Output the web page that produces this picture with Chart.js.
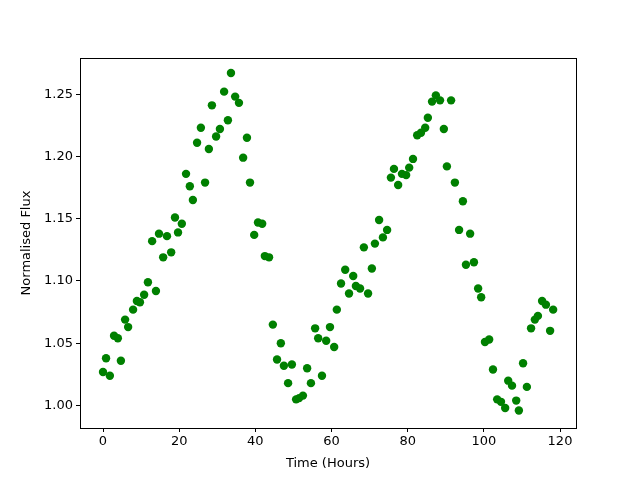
<!DOCTYPE html>
<html>
<head>
<meta charset="utf-8">
<script src="https://cdn.jsdelivr.net/npm/chart.js@4.4.1/dist/chart.umd.min.js"></script>
<style>
  html, body { margin: 0; padding: 0; background: #fff; }
  #wrap { width: 640px; height: 480px; }
</style>
</head>
<body>
<div id="wrap"><canvas id="fluxChart" width="640" height="480"></canvas></div>
<script>
// time in hours
const timeHours = [
  0, 0.8, 1.8, 2.9, 3.9, 4.7, 5.8, 6.6, 7.9, 8.9, 9.7, 10.8, 11.8, 12.9, 13.9, 14.7,
  15.8, 16.8, 17.9, 18.9, 19.7, 20.7, 21.8, 22.8, 23.6, 24.7, 25.7, 26.8, 27.8, 28.6,
  29.7, 30.7, 31.8, 32.8, 33.6, 34.7, 35.7, 36.8, 37.8, 38.6, 39.7, 40.7, 41.8, 42.5,
  43.6, 44.6, 45.7, 46.7, 47.5, 48.6, 49.6, 50.7, 51.5, 52.5, 53.6, 54.6, 55.7, 56.5,
  57.5, 58.6, 59.6, 60.7, 61.4, 62.5, 63.6, 64.6, 65.7, 66.4, 67.5, 68.5, 69.6, 70.6,
  71.4, 72.5, 73.5, 74.6, 75.6, 76.4, 77.5, 78.5, 79.6, 80.4, 81.4, 82.5, 83.5, 84.6,
  85.3, 86.4, 87.4, 88.5, 89.5, 90.3, 91.4, 92.4, 93.5, 94.5, 95.3, 96.4, 97.4, 98.5,
  99.3, 100.3, 101.4, 102.4, 103.5, 104.5, 105.6, 106.4, 107.4, 108.5, 109.2, 110.3,
  111.3, 112.4, 113.4, 114.2, 115.3, 116.3, 117.4, 118.2
];

// normalised flux
const fluxValues = [
  1.027, 1.038, 1.024, 1.056, 1.054, 1.036, 1.069, 1.063, 1.077, 1.084, 1.083, 1.089,
  1.099, 1.132, 1.092, 1.138, 1.119, 1.136, 1.123, 1.151, 1.139, 1.146, 1.186, 1.176,
  1.165, 1.211, 1.223, 1.179, 1.206, 1.241, 1.216, 1.222, 1.252, 1.229, 1.267, 1.248,
  1.243, 1.199, 1.215, 1.179, 1.137, 1.147, 1.146, 1.120, 1.119, 1.065, 1.037, 1.050,
  1.032, 1.018, 1.033, 1.005, 1.006, 1.008, 1.030, 1.018, 1.062, 1.054, 1.024, 1.052,
  1.063, 1.047, 1.077, 1.098, 1.109, 1.090, 1.104, 1.096, 1.094, 1.127, 1.090, 1.110,
  1.130, 1.149, 1.135, 1.141, 1.183, 1.190, 1.177, 1.186, 1.185, 1.191, 1.198, 1.217,
  1.219, 1.223, 1.231, 1.244, 1.249, 1.245, 1.222, 1.192, 1.245, 1.179, 1.141, 1.164,
  1.113, 1.138, 1.115, 1.094, 1.087, 1.051, 1.053, 1.029, 1.005, 1.003, 0.998, 1.020,
  1.016, 1.004, 0.996, 1.034, 1.015, 1.062, 1.069, 1.072, 1.084, 1.081, 1.060, 1.077
];

const xTicks = [0, 20, 40, 60, 80, 100, 120];
const yTicks = [1.00, 1.05, 1.10, 1.15, 1.20, 1.25];

const points = timeHours.map((t, i) => ({ x: t, y: fluxValues[i] }));

const tickFont = { family: 'DejaVu Sans', size: 13 };

// full box around plot area like matplotlib
const frameBox = {
  id: 'frameBox',
  afterDraw(chart) {
    const a = chart.chartArea;
    const c = chart.ctx;
    c.save();
    c.strokeStyle = '#000';
    c.lineWidth = 1;
    c.strokeRect(Math.round(a.left) + 0.5, Math.round(a.top) + 0.5,
                 Math.round(a.right - a.left), Math.round(a.bottom - a.top));
    c.restore();
  }
};

new Chart(document.getElementById('fluxChart'), {
  type: 'scatter',
  data: {
    datasets: [{
      data: points,
      backgroundColor: '#008000',
      borderWidth: 0,
      pointRadius: 4.2,
      pointHoverRadius: 4.2
    }]
  },
  options: {
    responsive: false,
    animation: false,
    layout: { padding: { left: 0, top: 58, right: 64, bottom: 0 } },
    plugins: { legend: { display: false }, tooltip: { enabled: false } },
    scales: {
      x: {
        type: 'linear',
        min: -6.04,
        max: 124.2,
        afterBuildTicks: axis => { axis.ticks = xTicks.map(v => ({ value: v })); },
        afterFit: axis => { axis.height = 52; },
        ticks: { color: '#000', font: tickFont, padding: 2, maxRotation: 0 },
        grid: { drawOnChartArea: false, drawTicks: true, tickLength: 4, color: '#000' },
        border: { color: '#000' },
        title: { display: true, text: 'Time (Hours)', color: '#000', font: tickFont, padding: { top: 4, bottom: 9 } }
      },
      y: {
        type: 'linear',
        min: 0.982,
        max: 1.279,
        afterBuildTicks: axis => { axis.ticks = yTicks.map(v => ({ value: v })); },
        afterFit: axis => { axis.width = 80; },
        ticks: { color: '#000', font: tickFont, padding: 3, callback: v => v.toFixed(2) },
        grid: { drawOnChartArea: false, drawTicks: true, tickLength: 4, color: '#000' },
        border: { color: '#000' },
        title: { display: true, text: 'Normalised Flux', color: '#000', font: tickFont, padding: { top: 19, bottom: 0 } }
      }
    }
  },
  plugins: [frameBox]
});
</script>
</body>
</html>
